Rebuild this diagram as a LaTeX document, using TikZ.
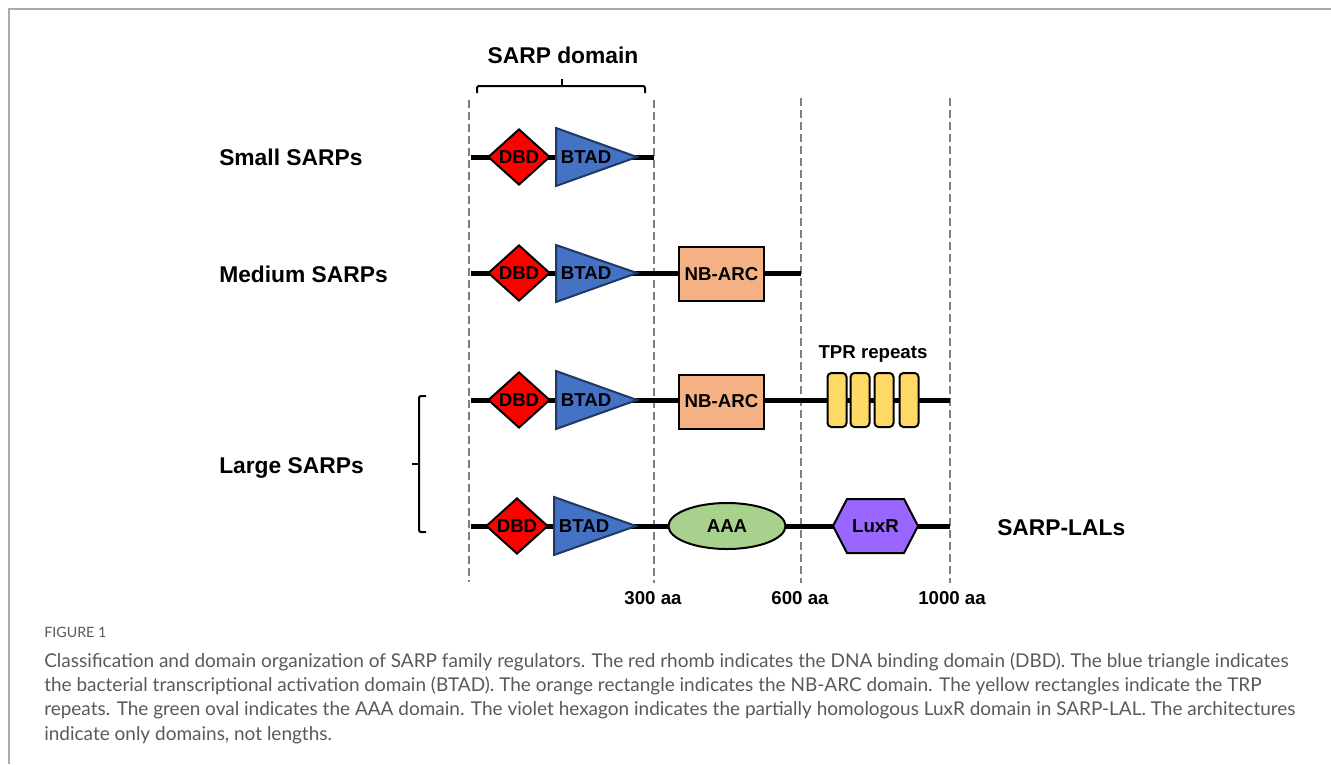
\documentclass[tikz,border=0pt]{standalone}
\usepackage{fontspec}
\setmainfont{Liberation Sans}
\newfontfamily\capfont{Lato}
\usetikzlibrary{shapes.geometric}
\definecolor{dashgray}{HTML}{808080}
\definecolor{framegray}{HTML}{ABABAB}
\definecolor{dbdred}{HTML}{FF0000}
\definecolor{btadblue}{HTML}{4472C4}
\definecolor{btadedge}{HTML}{203864}
\definecolor{nbarc}{HTML}{F4B183}
\definecolor{tpr}{HTML}{FFD966}
\definecolor{aaa}{HTML}{A9D18E}
\definecolor{luxr}{HTML}{9966FF}
\definecolor{captext}{HTML}{595959}
\tikzset{
  backbone/.style={line width=3.75pt, black},
  guide/.style={dashgray, line width=2pt, dash pattern=on 6pt off 3pt},
  brace/.style={line width=1.5pt, black, rounded corners=1.5pt},
  biglabel/.style={font=\bfseries\fontsize{17.1pt}{20pt}\selectfont, inner sep=0pt},
  inlabel/.style={font=\bfseries\fontsize{14pt}{16pt}\selectfont, inner sep=0pt},
  dbd/.style={diamond, draw=black, line width=1.5pt, fill=dbdred, minimum width=46.5pt, minimum height=42pt, inner sep=0pt, font=\bfseries\fontsize{14pt}{16pt}\selectfont},
  btadshape/.style={draw=btadedge, fill=btadblue, line width=1.5pt, line join=miter},
  nbbox/.style={rectangle, draw=black, fill=nbarc, line width=1.5pt, minimum width=63.75pt, minimum height=40.5pt, inner sep=0pt, font=\bfseries\fontsize{14pt}{16pt}\selectfont},
  tprbox/.style={rectangle, draw=black, fill=tpr, line width=1.5pt, rounded corners=3pt, minimum width=14.25pt, minimum height=40.5pt, inner sep=0pt},
  aaabox/.style={ellipse, draw=black, fill=aaa, line width=1.5pt, minimum width=87.75pt, minimum height=34.5pt, inner sep=0pt, font=\bfseries\fontsize{14pt}{16pt}\selectfont},
  hexshape/.style={draw=black, fill=luxr, line width=1.5pt, line join=miter},
  capline/.style={anchor=base west, inner sep=0pt, text=captext, font=\capfont\fontsize{14.24pt}{17pt}\selectfont},
}
\begin{document}
\begin{tikzpicture}[x=0.75pt, y=-0.75pt]
\useasboundingbox (0,0) rectangle (1331,764);
% frame
\coordinate (f1) at (9,764);
\coordinate (f2) at (9,9);
\coordinate (f3) at (1331,9);
\draw[framegray, line width=1.4pt] (f1) -- (f2) -- (f3);

% guide lines
\coordinate (g1t) at (469,100); \coordinate (g1b) at (469,582);
\coordinate (g2t) at (654,100); \coordinate (g2b) at (654,583);
\coordinate (g3t) at (801,98);  \coordinate (g3b) at (801,583);
\coordinate (g4t) at (950,98);  \coordinate (g4b) at (950,583);
\draw[guide] (g1t) -- (g1b);
\draw[guide] (g2t) -- (g2b);
\draw[guide] (g3t) -- (g3b);
\draw[guide] (g4t) -- (g4b);

% SARP domain brace
\coordinate (bl) at (477,93); \coordinate (br) at (645,93);
\coordinate (bm) at (562,86); \coordinate (bt) at (562,79);
\draw[brace] (bl) -- (477,86) -- (645,86) -- (br);
\draw[line width=1.5pt] (bm) -- (bt);
\node[biglabel, anchor=base] (sarpdom) at (563,63) {SARP domain};

% row labels
\node[biglabel, anchor=base west] (small) at (219,165) {Small SARPs};
\node[biglabel, anchor=base west] (medium) at (219,282) {Medium SARPs};
\node[biglabel, anchor=base west] (large) at (219,473) {Large SARPs};
\node[biglabel, anchor=base west] (lals) at (997,535) {SARP-LALs};

% large brace
\coordinate (lb1) at (426,396); \coordinate (lb2) at (426,532);
\coordinate (lbm) at (419,464); \coordinate (lbt) at (412,464);
\draw[brace] (lb1) -- (419,396) -- (419,532) -- (lb2);
\draw[line width=1.5pt] (lbm) -- (lbt);

% ---------- row 1 : small
\coordinate (r1s) at (471,157); \coordinate (r1e) at (654,157);
\draw[backbone] (r1s) -- (r1e);
\node[dbd] (dbd1) at (519,157) {DBD};
\draw[btadshape] (556,128) -- (637,157) -- (556,186) -- cycle;
\node[inlabel] (btad1) at (586,157) {BTAD};

% ---------- row 2 : medium
\coordinate (r2s) at (471,273); \coordinate (r2e) at (801,273);
\draw[backbone] (r2s) -- (r2e);
\node[dbd] (dbd2) at (519,273) {DBD};
\draw[btadshape] (556,245) -- (637,273) -- (556,302) -- cycle;
\node[inlabel] (btad2) at (586,273) {BTAD};
\node[nbbox] (nb2) at (721.5,274) {NB-ARC};

% ---------- row 3 : large (TPR)
\coordinate (r3s) at (471,400); \coordinate (r3e) at (950,400);
\draw[backbone] (r3s) -- (r3e);
\node[dbd] (dbd3) at (519,400) {DBD};
\draw[btadshape] (556,371) -- (637,400) -- (556,429) -- cycle;
\node[inlabel] (btad3) at (586,400) {BTAD};
\node[nbbox] (nb3) at (721.5,401.5) {NB-ARC};
\node[tprbox] (t1) at (837,400) {};
\node[tprbox] (t2) at (860,400) {};
\node[tprbox] (t3) at (884,400) {};
\node[tprbox] (t4) at (909,400) {};
\node[inlabel, anchor=base] (tprlab) at (873,358) {TPR repeats};

% ---------- row 4 : SARP-LAL
\coordinate (r4s) at (471,526); \coordinate (r4e) at (950,526);
\draw[backbone] (r4s) -- (r4e);
\node[dbd] (dbd4) at (517,526) {DBD};
\draw[btadshape] (554,497) -- (636,526) -- (554,555) -- cycle;
\node[inlabel] (btad4) at (584,526) {BTAD};
\node[aaabox] (aaa4) at (727,526) {AAA};
\draw[hexshape] (847,499) -- (904,499) -- (918,526) -- (904,553) -- (847,553) -- (833,526) -- cycle;
\node[inlabel] (luxr4) at (875.5,526) {LuxR};

% scale labels
\node[inlabel, anchor=base] (aa300) at (653,604) {300 aa};
\node[inlabel, anchor=base] (aa600) at (800,604) {600 aa};
\node[inlabel, anchor=base] (aa1000) at (952,604) {1000 aa};

% caption
\node[anchor=base west, inner sep=0pt, text=captext, font=\capfont\fontsize{10.7pt}{12pt}\selectfont] (fig) at (44,637) {FIGURE 1};
\node[capline] (c1) at (44,667) {Classification and domain organization of SARP family regulators. The red rhomb indicates the DNA binding domain (DBD). The blue triangle indicates};
\node[capline] (c2) at (44,691) {the bacterial transcriptional activation domain (BTAD). The orange rectangle indicates the NB-ARC domain. The yellow rectangles indicate the TRP};
\node[capline] (c3) at (44,715.5) {repeats. The green oval indicates the AAA domain. The violet hexagon indicates the partially homologous LuxR domain in SARP-LAL. The architectures};
\node[capline] (c4) at (44,740) {indicate only domains, not lengths.};
\end{tikzpicture}
\end{document}
